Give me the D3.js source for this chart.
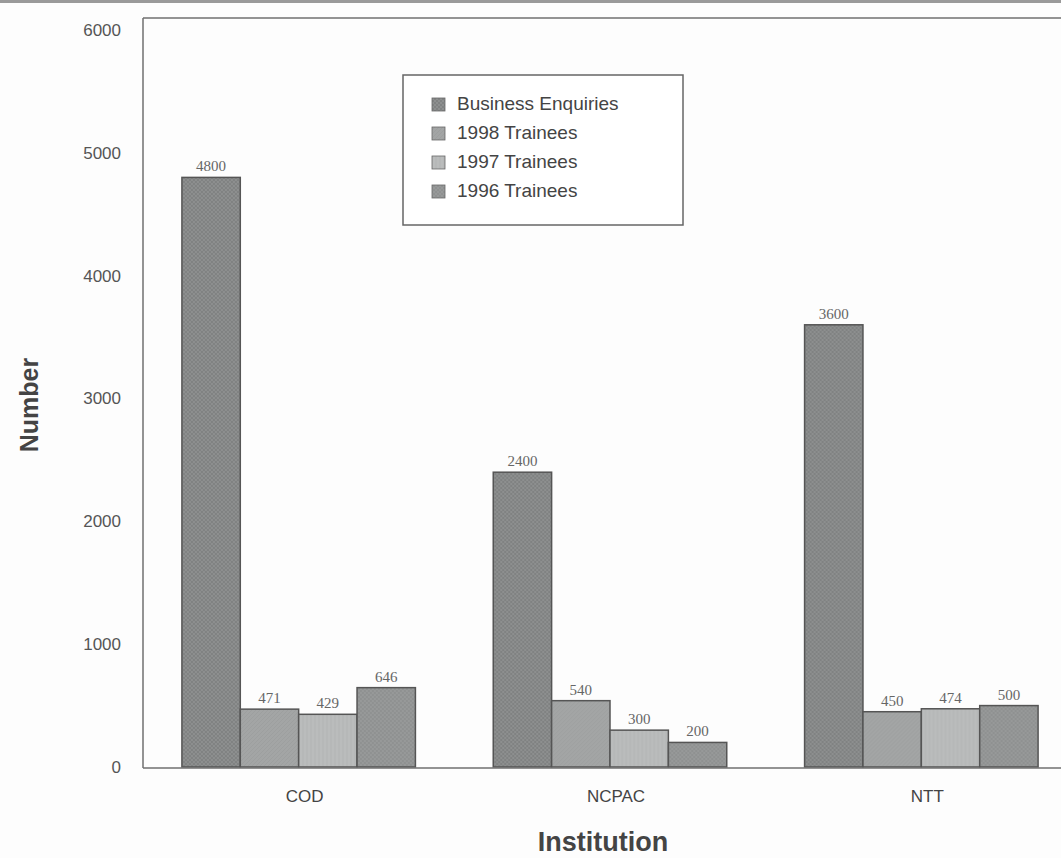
<!DOCTYPE html>
<html>
<head>
<meta charset="utf-8">
<script src="https://cdn.jsdelivr.net/npm/d3@7"></script>
<style>
  html, body { margin: 0; padding: 0; background: #fdfdfd; }
  svg { display: block; }
</style>
</head>
<body>
<svg id="chart" width="1061" height="858"></svg>
<script>
// Institutions on the x axis
const institutions = ["COD", "NCPAC", "NTT"];
// Series shown in the legend, one bar per institution each
const seriesNames = ["Business Enquiries", "1998 Trainees", "1997 Trainees", "1996 Trainees"];
const businessEnquiries = [4800, 2400, 3600];
const trainees1998 = [471, 540, 450];
const trainees1997 = [429, 300, 474];
const trainees1996 = [646, 200, 500];
const yTicks = [0, 1000, 2000, 3000, 4000, 5000, 6000];

(function () {
  const seriesValues = [businessEnquiries, trainees1998, trainees1997, trainees1996];
  const fills = ["#8d8f8f", "#a3a5a5", "#babcbc", "#979999"];

  const svg = d3.select("#chart");
  const W = 1061;

  // scanned-page border along the top
  svg.append("rect").attr("x", 0).attr("y", 0).attr("width", W).attr("height", 3).attr("fill", "#9a9a9a");

  const plotLeft = 143, plotRight = 1077, plotTop = 18, plotBottom = 768;

  const x = d3.scaleBand().domain(institutions).range([plotLeft, plotRight]).paddingInner(0.25).paddingOuter(0.125);
  const xs = d3.scaleBand().domain(seriesNames).range([0, x.bandwidth()]);
  const y = d3.scaleLinear().domain([0, 6000]).range([767, 30]);

  // fill textures
  const defs = svg.append("defs");
  function pattern(id, base, draw) {
    const p = defs.append("pattern").attr("id", id).attr("patternUnits", "userSpaceOnUse")
      .attr("width", 4).attr("height", 4);
    p.append("rect").attr("width", 4).attr("height", 4).attr("fill", base);
    draw(p);
  }
  pattern("p0", fills[0], p => {
    p.append("path").attr("d", "M0,0L4,4M4,0L0,4").attr("stroke", "#7a7c7c").attr("stroke-width", 0.7);
  });
  pattern("p1", fills[1], p => {
    p.append("path").attr("d", "M0,4L4,0").attr("stroke", "#989a9a").attr("stroke-width", 0.6);
  });
  pattern("p2", fills[2], p => {
    p.append("path").attr("d", "M1,0L1,4").attr("stroke", "#aeb0b0").attr("stroke-width", 0.7);
  });
  pattern("p3", fills[3], p => {
    p.append("circle").attr("cx", 1).attr("cy", 1).attr("r", 0.8).attr("fill", "#858787");
    p.append("circle").attr("cx", 3).attr("cy", 3).attr("r", 0.8).attr("fill", "#858787");
  });

  // plot frame
  const frame = svg.append("g").attr("stroke", "#6f6f6f").attr("stroke-width", 1.5).attr("fill", "none");
  frame.append("line").attr("x1", plotLeft).attr("x2", plotLeft).attr("y1", plotTop).attr("y2", plotBottom);
  frame.append("line").attr("x1", plotLeft).attr("x2", W).attr("y1", plotTop).attr("y2", plotTop);

  // y axis labels
  const yAxis = d3.axisLeft(y).tickValues(yTicks).tickFormat(d3.format("d")).tickSize(0).tickPadding(0);
  const gy = svg.append("g").attr("transform", `translate(${plotLeft - 22},0)`).call(yAxis);
  gy.select(".domain").remove();
  gy.selectAll("text").attr("font-family", "Liberation Sans, Arial, sans-serif")
    .attr("font-size", 17).attr("fill", "#555");

  // bars
  const groups = svg.append("g").selectAll("g").data(institutions).join("g")
    .attr("transform", d => `translate(${x(d)},0)`);

  seriesNames.forEach((name, si) => {
    groups.append("rect")
      .attr("x", xs(name))
      .attr("width", xs.bandwidth())
      .attr("y", (d, i) => y(seriesValues[si][i]))
      .attr("height", (d, i) => y(0) - y(seriesValues[si][i]))
      .attr("fill", `url(#p${si})`)
      .attr("stroke", "#555")
      .attr("stroke-width", 1.5);
    groups.append("text")
      .attr("x", xs(name) + xs.bandwidth() / 2)
      .attr("y", (d, i) => y(seriesValues[si][i]) - 6)
      .attr("text-anchor", "middle")
      .attr("font-family", "Liberation Serif, Times New Roman, serif")
      .attr("font-size", 15)
      .attr("fill", "#666")
      .text((d, i) => seriesValues[si][i]);
  });

  // x axis
  const xAxis = d3.axisBottom(x).tickSize(0).tickPadding(22);
  const gx = svg.append("g").attr("transform", `translate(0,${plotBottom})`).call(xAxis);
  gx.select(".domain").attr("stroke", "#6f6f6f").attr("stroke-width", 1.5).attr("d", `M${plotLeft},0H${W}`);
  gx.selectAll("text").attr("font-family", "Liberation Sans, Arial, sans-serif")
    .attr("font-size", 17).attr("fill", "#444").attr("dx", 6);

  // axis titles
  svg.append("text").attr("x", 603).attr("y", 851).attr("text-anchor", "middle")
    .attr("font-family", "Liberation Sans, Arial, sans-serif").attr("font-weight", "bold")
    .attr("font-size", 27).attr("fill", "#444").text("Institution");
  svg.append("text").attr("transform", "translate(38,405) rotate(-90)").attr("text-anchor", "middle")
    .attr("font-family", "Liberation Sans, Arial, sans-serif").attr("font-weight", "bold")
    .attr("font-size", 25).attr("fill", "#444").text("Number");

  // legend
  const lg = svg.append("g").attr("transform", "translate(403,75)");
  lg.append("rect").attr("width", 280).attr("height", 150).attr("fill", "#fff")
    .attr("stroke", "#666").attr("stroke-width", 1.5);
  seriesNames.forEach((name, i) => {
    const ry = 28 + i * 29;
    lg.append("rect").attr("x", 29).attr("y", ry - 5).attr("width", 13).attr("height", 13)
      .attr("fill", `url(#p${i})`).attr("stroke", "#666").attr("stroke-width", 0.8);
    lg.append("text").attr("x", 54).attr("y", ry + 7)
      .attr("font-family", "Liberation Sans, Arial, sans-serif").attr("font-size", 19)
      .attr("fill", "#444").text(name);
  });
})();
</script>
</body>
</html>
